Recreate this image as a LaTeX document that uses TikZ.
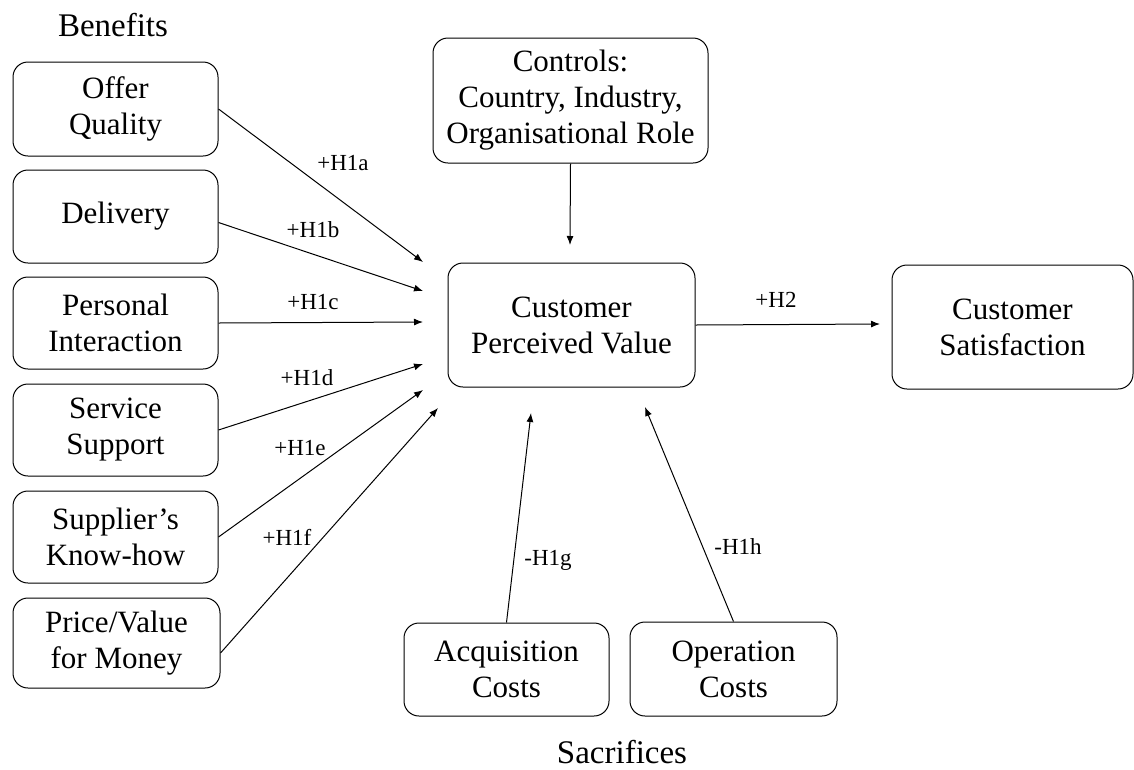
\documentclass[tikz,border=0pt]{standalone}
\usepackage{fontspec}
\setmainfont{Liberation Serif}
\usetikzlibrary{arrows.meta}
\tikzset{
  box/.style={draw, rounded corners=15pt, line width=1pt, align=center,
    font=\fontsize{31}{36}\selectfont, inner sep=0pt},
  link/.style={-{Latex[length=9pt,width=7pt]}, line width=1pt},
  hyp/.style={font=\fontsize{23}{27}\selectfont, inner sep=0pt},
  head/.style={font=\fontsize{33}{38}\selectfont, inner sep=0pt},
}
\begin{document}
\begin{tikzpicture}[x=1pt,y=-1pt]
\useasboundingbox (0,0) rectangle (1134,769);

% group headings
\node[head] (benefits) at (113,25) {Benefits};
\node[head] (sacrifices) at (622,752) {Sacrifices};

% benefit constructs
\node[box, minimum width=205pt, minimum height=94pt] (offer)    at (115.5,109)   {Offer\\Quality};
\node[box, minimum width=205pt, minimum height=93pt] (delivery) at (115.5,216.5) {Delivery};
\node[box, minimum width=205pt, minimum height=92pt] (personal) at (115.5,323)   {Personal\\Interaction};
\node[box, minimum width=205pt, minimum height=92pt] (service)  at (115.5,430)   {Service\\Support};
\node[box, minimum width=205pt, minimum height=92pt] (supplier) at (115.5,537)   {Supplier’s\\Know-how};
\node[box, minimum width=207pt, minimum height=90pt] (price)    at (116.5,643)   {Price/Value\\for Money};

% central constructs
\node[box, minimum width=275pt, minimum height=125pt] (controls) at (570.5,100.5) {Controls:\\Country, Industry,\\Organisational Role};
\node[box, minimum width=247pt, minimum height=124pt] (cpv) at (571.5,325) {Customer\\Perceived Value};
\node[box, minimum width=241pt, minimum height=124pt] (cs)  at (1012.5,327) {Customer\\Satisfaction};

% sacrifice constructs
\node[box, minimum width=205pt, minimum height=93pt] (acq) at (506.5,669.5) {Acquisition\\Costs};
\node[box, minimum width=207pt, minimum height=94pt] (op)  at (733.5,669)   {Operation\\Costs};

% arrow end points in front of the value construct
\coordinate (ea) at (423,262);
\coordinate (eb) at (423,291);
\coordinate (ec) at (423,322);
\coordinate (ed) at (423,364);
\coordinate (ee) at (423,390);
\coordinate (ef) at (438,408);
\coordinate (ectl) at (570,245);
\coordinate (ecs) at (880,324);
\coordinate (eg) at (531,413);
\coordinate (eh) at (645,407);

% hypothesised paths
\draw[link] (offer.east) -- (ea);
\draw[link] ([yshift=-6pt]delivery.east) -- (eb);
\draw[link] (personal.east) -- (ec);
\draw[link] (service.east) -- (ed);
\draw[link] (supplier.east) -- (ee);
\draw[link] ([yshift=-10pt]price.east) -- (ef);
\draw[link] (controls.south) -- (ectl);
\draw[link] (cpv.east) -- (ecs);
\draw[link] (acq.north) -- (eg);
\draw[link] (op.north) -- (eh);

% path labels
\node[hyp] (la) at (343,163) {+H1a};
\node[hyp] (lb) at (313,230) {+H1b};
\node[hyp] (lc) at (313,302) {+H1c};
\node[hyp] (ld) at (307,378) {+H1d};
\node[hyp] (le) at (300,448) {+H1e};
\node[hyp] (lf) at (287,537) {+H1f};
\node[hyp] (l2) at (776,300) {+H2};
\node[hyp] (lg) at (548,560) {-H1g};
\node[hyp] (lh) at (738,547) {-H1h};
\end{tikzpicture}
\end{document}
